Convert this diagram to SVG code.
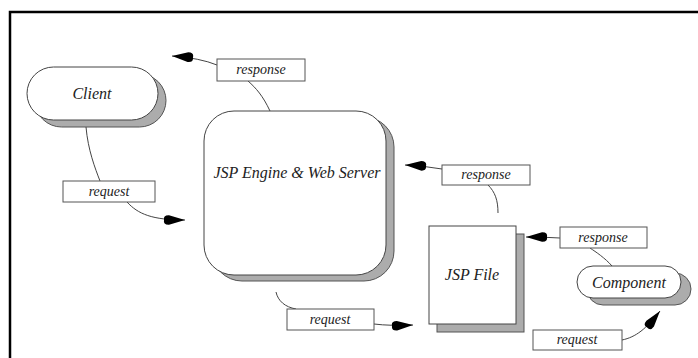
<svg xmlns="http://www.w3.org/2000/svg" width="698" height="358" viewBox="0 0 698 358">
<defs>
<style>
.frame{fill:none;stroke:#000;stroke-width:2.5}
.shadow{fill:#acacac;stroke:#555;stroke-width:1}
.shape{fill:#fff;stroke:#444;stroke-width:1}
.lbl{fill:#fff;stroke:#555;stroke-width:1}
.conn{fill:none;stroke:#444;stroke-width:1}
text{font-family:"Liberation Serif","Times New Roman",serif;font-style:italic;fill:#222;text-anchor:middle}
.big{font-size:16px}
.small{font-size:14px}
</style>
<marker id="ah" markerUnits="userSpaceOnUse" markerWidth="24" markerHeight="12" viewBox="0 0 24 12" refX="22" refY="6" orient="auto">
<path d="M1,6 Q0,1 6,1.2 L22,6 L6,10.8 Q0,11 1,6 Z" fill="#000"/>
</marker>
</defs>
<rect class="frame" x="10" y="12" width="700" height="360"/>
<g id="client">
<rect class="shadow" x="35" y="74" width="131" height="53" rx="26.5"/>
<rect class="shape" x="27" y="67" width="131" height="53" rx="26.5"/>
<text class="big" x="92" y="99">Client</text>
</g>
<g id="engine">
<rect class="shadow" x="212" y="117" width="182" height="164" rx="30"/>
<rect class="shape" x="204" y="111" width="182" height="164" rx="30"/>
<text class="big" x="297" y="178">JSP Engine &amp; Web Server</text>
</g>
<g id="jspfile">
<rect class="shadow" x="437" y="234" width="87" height="98"/>
<rect class="shape" x="429" y="226" width="87" height="98"/>
<text class="big" x="472" y="280">JSP File</text>
</g>
<g id="component">
<rect class="shadow" x="587" y="273" width="104" height="32" rx="16"/>
<rect class="shape" x="577" y="266" width="104" height="32" rx="16"/>
<text class="big" x="629" y="288">Component</text>
</g>
<g id="connectors">
<path class="conn" d="M86,127 C88,150 95,168 100,181"/>
<path class="conn" d="M127,202 C138,214 152,220 185,220" marker-end="url(#ah)"/>
<path class="conn" d="M270,111 C263,96 256,88 248,81"/>
<path class="conn" d="M217,65 Q200,58 172,56" marker-end="url(#ah)"/>
<path class="conn" d="M276,292 C278,301 285,307 296,309"/>
<path class="conn" d="M374,324 Q390,326 413,325" marker-end="url(#ah)"/>
<path class="conn" d="M498,213 C498,200 495,192 488,185"/>
<path class="conn" d="M442,169 Q425,166 405,165" marker-end="url(#ah)"/>
<path class="conn" d="M612,266 C605,258 596,252 590,248"/>
<path class="conn" d="M560,238 Q545,237 526,237" marker-end="url(#ah)"/>
<path class="conn" d="M622,340 C636,337 646,329 660,311" marker-end="url(#ah)"/>
</g>
<g id="label-response-1">
<rect class="lbl" x="217" y="59" width="88" height="22"/>
<text class="small" x="261" y="74">response</text>
</g>
<g id="label-request-1">
<rect class="lbl" x="63" y="181" width="92" height="21"/>
<text class="small" x="109" y="196">request</text>
</g>
<g id="label-request-2">
<rect class="lbl" x="287" y="309" width="87" height="21"/>
<text class="small" x="330" y="324">request</text>
</g>
<g id="label-response-2">
<rect class="lbl" x="442" y="165" width="88" height="20"/>
<text class="small" x="486" y="179">response</text>
</g>
<g id="label-response-3">
<rect class="lbl" x="560" y="227" width="87" height="21"/>
<text class="small" x="603" y="242">response</text>
</g>
<g id="label-request-3">
<rect class="lbl" x="533" y="330" width="89" height="20"/>
<text class="small" x="577" y="344">request</text>
</g>
</svg>
